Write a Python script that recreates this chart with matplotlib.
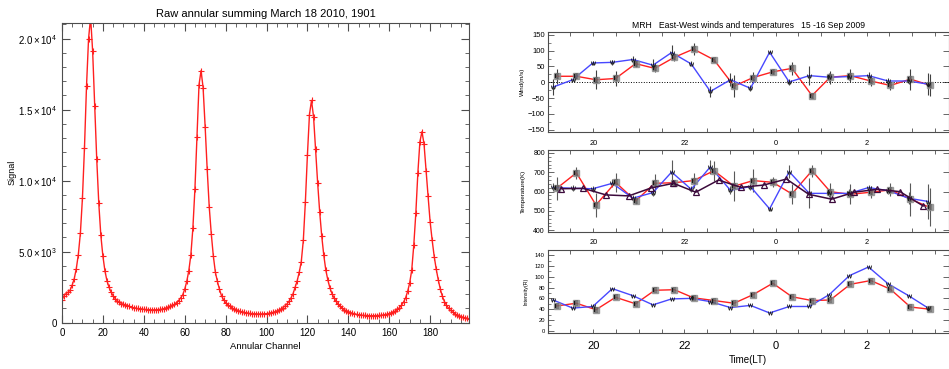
import numpy as np
import matplotlib
matplotlib.use("Agg")
import matplotlib.pyplot as plt
from matplotlib.ticker import MultipleLocator, FixedLocator, FuncFormatter

plt.rcParams['font.family'] = ['Liberation Sans', 'DejaVu Sans']
plt.rcParams['mathtext.fontset'] = 'custom'
plt.rcParams['mathtext.rm'] = 'Liberation Sans'
plt.rcParams['mathtext.it'] = 'Liberation Sans'

# ---- left panel: raw annular signal per channel
signal = [
    1600, 1900, 2050, 2150, 2300, 2650, 3100, 3800, 4800, 6300,
    8750, 12300, 16650, 20000, 21500, 19100, 15250, 11500, 8400, 6150,
    4700, 3650, 2950, 2500, 2150, 1900, 1700, 1550, 1450, 1350,
    1300, 1250, 1200, 1150, 1100, 1050, 1020, 1000, 980, 960,
    940, 930, 920, 910, 905, 905, 910, 920, 935, 960,
    990, 1030, 1080, 1140, 1220, 1300, 1420, 1550, 1750, 1950,
    2350, 2900, 3650, 4750, 6650, 9400, 13100, 16750, 17750, 16550,
    13800, 10800, 8150, 6250, 4700, 3550, 2900, 2350, 1900, 1620,
    1420, 1280, 1160, 1060, 980, 910, 850, 800, 760, 720,
    690, 670, 650, 640, 630, 620, 615, 615, 620, 630,
    640, 660, 690, 720, 760, 810, 870, 950, 1050, 1170,
    1320, 1500, 1750, 2050, 2500, 2950, 3550, 4300, 5800, 8500,
    11800, 14650, 15650, 14500, 12200, 9850, 7800, 6100, 4750, 3700,
    3000, 2450, 2050, 1750, 1500, 1300, 1150, 1020, 920, 840,
    770, 710, 660, 620, 590, 560, 540, 520, 510, 500,
    495, 490, 490, 495, 500, 510, 525, 545, 570, 600,
    640, 690, 750, 830, 930, 1060, 1230, 1450, 1750, 2200,
    2800, 3700, 5450, 7700, 10550, 12750, 13450, 12600, 10700, 8900,
    7100, 5800, 4650, 3750, 3000, 2350, 1850, 1480, 1230, 1020,
    860, 740, 640, 560, 490, 430, 380, 340, 300, 270,
]
channel = np.arange(len(signal))
signal_ticks = [0, 5000, 10000, 15000, 20000]
signal_labels = ['0', r'$5.0\times10^{3}$', r'$1.0\times10^{4}$',
                 r'$1.5\times10^{4}$', r'$2.0\times10^{4}$']

# ---- right panels: local time in hours (24 = midnight)
t_west = [19.12, 19.55, 19.99, 20.42, 20.87, 21.31, 21.72, 22.15, 22.57, 23.01,
          23.45, 23.87, 24.30, 24.74, 25.18, 25.62, 26.04, 26.47, 26.92, 27.35]
t_east = [19.20, 19.63, 20.06, 20.49, 20.93, 21.35, 21.78, 22.20, 22.65, 23.09,
          23.51, 23.94, 24.36, 24.80, 25.20, 25.64, 26.09, 26.52, 26.96, 27.38]
t_mean = [19.30, 19.78, 20.28, 20.78, 21.27, 21.76, 22.25, 22.75, 23.24,
          23.74, 24.24, 24.73, 25.23, 25.73, 26.23, 26.73, 27.24]

wind_w = [-15, 8, 61, 63, 72, 54, 94, 58, -29, 8, -19, 95, 1, 21, 16, 18, 21, 4, 4, -6]
wind_w_err = [25, 5, 6, 8, 10, 19, 25, 8, 18, 20, 10, 5, 8, 30, 12, 10, 10, 8, 10, 35]
wind_e = [19, 19, 8, 12, 59, 44, 79, 105, 71, -12, 15, 33, 44, -42, 16, 21, 4, -10, 10, -9]
wind_e_err = [23, 10, 30, 23, 10, 10, 12, 18, 6, 35, 18, 8, 21, 8, 20, 20, 15, 15, 33, 35]

temp_w = [622, 617, 615, 643, 566, 595, 701, 612, 728, 607,
          626, 511, 703, 591, 591, 591, 621, 605, 566, 549]
temp_w_err = [20, 15, 15, 20, 15, 20, 60, 15, 35, 20, 20, 10, 34, 77, 20, 20, 15, 15, 30, 90]
temp_e = [617, 697, 531, 648, 552, 643, 646, 657, 708, 628,
          657, 648, 588, 708, 600, 586, 597, 609, 561, 519]
temp_e_err = [60, 30, 60, 50, 17, 47, 15, 39, 51, 77, 60, 26, 51, 30, 47, 51, 30, 34, 86, 99]
temp_mean = [615, 617, 583, 578, 619, 643, 597, 660, 622, 634, 665, 586, 561, 597, 612, 600, 526]

int_w = [57, 42, 45, 78, 65, 48, 59, 60, 54, 43, 47, 33, 45, 45, 67, 102, 118, 87, 65, 42]
int_e = [46, 51, 39, 62, 50, 75, 76, 61, 56, 51, 67, 88, 63, 56, 57, 86, 93, 77, 44, 40]

RED = '#ff2020'
BLUE = '#4848ff'
DARK = '#3c0a3c'
FRAME = '0.3'

fig = plt.figure(figsize=(9.49, 3.69), dpi=100)

# ================= left panel
ax = fig.add_axes([0.0653, 0.1255, 0.4289, 0.8122])
ax.plot(channel, signal, color=RED, lw=1, marker='+', ms=5, mew=0.8)
ax.set_xlim(0, 199)
ax.set_ylim(0, 21100)
ax.xaxis.set_major_locator(MultipleLocator(20))
ax.xaxis.set_minor_locator(MultipleLocator(5))
ax.set_yticks(signal_ticks)
ax.set_yticklabels(signal_labels)
ax.yaxis.set_minor_locator(MultipleLocator(1000))
ax.tick_params(which='both', direction='in', top=True, right=True,
               labelsize=7, color=FRAME)
ax.tick_params(which='major', length=6, width=0.8)
ax.tick_params(which='minor', length=3, width=0.6)
for s in ax.spines.values():
    s.set_color(FRAME)
ax.set_title('Raw annular summing March 18 2010, 1901', fontsize=8, pad=4)
ax.set_xlabel('Annular Channel', fontsize=6.8, labelpad=3)
ax.set_ylabel('Signal', fontsize=6.5)
ax.yaxis.set_label_coords(-0.112, 0.5)


# ================= right panels
def time_axis(a):
    a.set_xlim(19.0, 27.8)
    a.xaxis.set_major_locator(FixedLocator([20, 22, 24, 26]))
    a.xaxis.set_minor_locator(MultipleLocator(0.5))
    a.xaxis.set_major_formatter(FuncFormatter(lambda v, p: '%d' % (round(v) % 24)))
    a.tick_params(axis='x', which='both', direction='in', top=True, bottom=True,
                  length=3, width=0.6, color=FRAME)
    a.tick_params(axis='y', which='major', direction='in', left=True, right=True,
                  length=4, width=0.6, color=FRAME)
    a.tick_params(axis='y', which='minor', direction='in', left=True, right=False,
                  length=2, width=0.5, color=FRAME)
    for s in a.spines.values():
        s.set_color(FRAME)


def marks(a, t, v, letter, box):
    if box:
        a.plot(t, v, ls='none', marker='s', ms=5, color='0.55', alpha=0.8)
    a.plot(t, v, ls='none', marker='$%s$' % letter, ms=3.5, color='0.1', mew=0.2)


# ---- wind
aw = fig.add_axes([0.5771, 0.6415, 0.4226, 0.2710])
time_axis(aw)
aw.axhline(0, color='k', ls=':', lw=0.7)
aw.errorbar(t_east, wind_e, yerr=wind_e_err, fmt='none', ecolor='0.25', elinewidth=0.8)
aw.errorbar(t_west, wind_w, yerr=wind_w_err, fmt='none', ecolor='0.25', elinewidth=0.8)
aw.plot(t_east, wind_e, color=RED, lw=1)
aw.plot(t_west, wind_w, color=BLUE, lw=1)
marks(aw, t_east, wind_e, 'E', True)
marks(aw, t_west, wind_w, 'W', False)
aw.set_ylim(-158, 158)
aw.yaxis.set_major_locator(MultipleLocator(50))
aw.yaxis.set_minor_locator(MultipleLocator(25))
aw.tick_params(axis='x', labelbottom=False)
aw.tick_params(axis='y', labelsize=5.5, pad=2)
aw.set_ylabel('Wind(m/s)', fontsize=4.5)
aw.yaxis.set_label_coords(-0.057, 0.5)
aw.set_title('MRH   East-West winds and temperatures   15 -16 Sep 2009',
             fontsize=6.2, pad=3)

# ---- temperature
at = fig.add_axes([0.5771, 0.3705, 0.4226, 0.2230])
time_axis(at)
at.errorbar(t_east, temp_e, yerr=temp_e_err, fmt='none', ecolor='0.35', elinewidth=0.8)
at.errorbar(t_west, temp_w, yerr=temp_w_err, fmt='none', ecolor='0.35', elinewidth=0.8)
at.plot(t_east, temp_e, color=RED, lw=1)
at.plot(t_west, temp_w, color=BLUE, lw=1)
marks(at, t_east, temp_e, 'E', True)
marks(at, t_west, temp_w, 'W', False)
at.plot(t_mean, temp_mean, color=DARK, lw=1.1, marker='^', ms=4.5,
        mfc='none', mec=DARK, mew=0.9)
at.set_ylim(390, 815)
at.yaxis.set_major_locator(MultipleLocator(100))
at.yaxis.set_minor_locator(MultipleLocator(20))
at.tick_params(axis='x', labelbottom=False, labeltop=True, labelsize=5.3, pad=2.5)
at.tick_params(axis='y', labelsize=5, pad=2)
at.set_ylabel('Temperature(K)', fontsize=4.5)
at.yaxis.set_label_coords(-0.054, 0.5)

# ---- intensity
ai = fig.add_axes([0.5771, 0.0976, 0.4226, 0.2257])
time_axis(ai)
ai.plot(t_east, int_e, color=RED, lw=1)
ai.plot(t_west, int_w, color=BLUE, lw=1)
marks(ai, t_east, int_e, 'E', True)
marks(ai, t_west, int_w, 'W', False)
ai.set_ylim(-4, 150)
ai.yaxis.set_major_locator(MultipleLocator(20))
ai.yaxis.set_minor_locator(MultipleLocator(10))
ai.tick_params(axis='x', labeltop=True, labelsize=8, pad=6)
ai.tick_params(axis='y', labelsize=4.2, pad=2)
for lab in ai.get_xticklabels(which='major'):
    pass
ai.set_ylabel('Intensity(R)', fontsize=3.8)
ai.yaxis.set_label_coords(-0.047, 0.5)
ai.set_xlabel('Time(LT)', fontsize=7, labelpad=3)

# smaller labels on the top of the intensity panel
sec = ai.secondary_xaxis('top')
sec.set_xticks([20, 22, 24, 26])
sec.xaxis.set_major_formatter(FuncFormatter(lambda v, p: '%d' % (round(v) % 24)))
sec.tick_params(length=0, labelsize=5.3, pad=2.5)
sec.spines['top'].set_visible(False)
ai.tick_params(axis='x', labeltop=False)

fig.savefig('out.png', dpi=100)
